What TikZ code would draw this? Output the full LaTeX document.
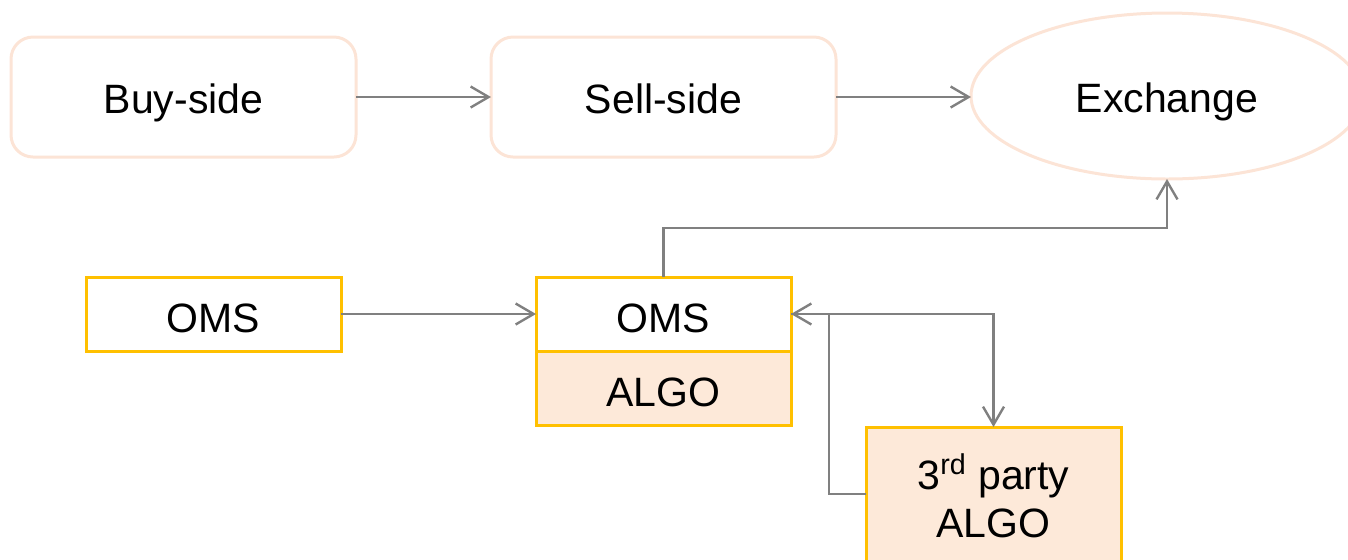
\documentclass[tikz,border=0pt]{standalone}
\usepackage{fontspec}
\setmainfont{Liberation Sans}
\usetikzlibrary{arrows.meta,shapes.geometric}
\definecolor{peach}{HTML}{FCE4D6}
\definecolor{peachfill}{HTML}{FDE9D9}
\definecolor{gold}{HTML}{FFC000}
\definecolor{conn}{HTML}{808080}
\begin{document}
\begin{tikzpicture}[x=0.5pt,y=-0.5pt,
  every node/.style={font=\fontsize{20.5}{24}\selectfont, inner sep=0pt, outer sep=0pt},
  topbox/.style={draw=peach, line width=1.5pt, rounded corners=11pt, fill=white,
    minimum width=172.5pt, minimum height=60pt, text height=16.8pt, text depth=0pt},
  exch/.style={ellipse, draw=peach, line width=1.5pt, fill=white,
    minimum width=196pt, minimum height=83pt, text height=16.8pt, text depth=0pt},
  ybox/.style={draw=gold, line width=1.5pt, fill=white,
    minimum width=127.5pt, minimum height=37pt, text height=18.3pt, text depth=0pt},
  yfill/.style={ybox, fill=peachfill},
  conline/.style={draw=conn, line width=1.2pt, -{Straight Barb[length=9pt,width=10.5pt,line width=1.2pt]}}
]
\useasboundingbox (0,0) rectangle (1348,559);
\clip (0,0) rectangle (1348,559);
\node[topbox] (buy) at (183.5,97) {Buy-side};
\node[topbox] (sell) at (663.5,97) {Sell-side};
\node[exch] (ex) at (1167,96) {Exchange};
\node[ybox] (oms1) at (213.5,314) {OMS};
\node[ybox] (oms2) at (663.5,314) {OMS};
\node[yfill] (algo) at (663.5,388.5) {ALGO};
\node[yfill, minimum height=70pt, align=center, text height=40.3pt] (third) at (993.5,497)
  {3\textsuperscript{rd} party\\ALGO};
\draw[conline] (buy.east |- 0,97) -- (sell.west |- 0,97);
\draw[conline] (sell.east |- 0,97) -- (ex.west |- 0,97);
\draw[conline] (oms1.east) -- (oms2.west);
\draw[conline] (oms2.north) -- (663.5,228) -- (1167,228) -- (ex.south);
\draw[conline] (third.west |- 0,494) -- (829,494) -- (829,314) -- (oms2.east);
\draw[conline] (oms2.east) -- (993.5,314) -- (third.north);
\end{tikzpicture}
\end{document}
